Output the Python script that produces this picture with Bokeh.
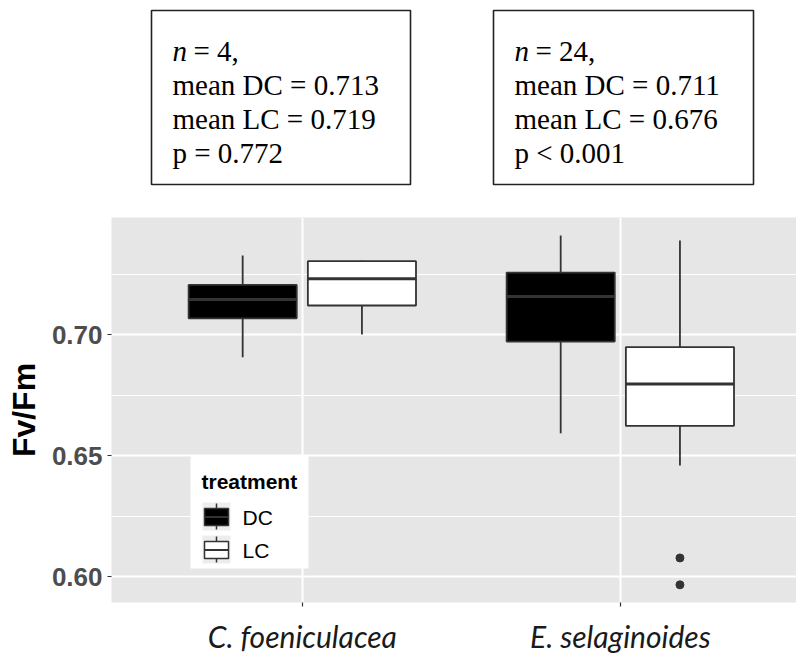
from bokeh.plotting import figure
from bokeh.layouts import column
from bokeh.models import Range1d, FixedTicker, ColumnDataSource
from bokeh.core.properties import value
from bokeh.embed import file_html
from bokeh.resources import INLINE

# ---------------- data ----------------
species = ["C. foeniculacea", "E. selaginoides"]
treatments = ["DC", "LC"]
box_species = ["C. foeniculacea", "C. foeniculacea", "E. selaginoides", "E. selaginoides"]
box_treatment = ["DC", "LC", "DC", "LC"]
whisker_low = [0.6906, 0.7000, 0.6592, 0.6459]
q1 = [0.7067, 0.7120, 0.6971, 0.6623]
median = [0.7145, 0.7230, 0.7157, 0.6796]
q3 = [0.7205, 0.7303, 0.7256, 0.6948]
whisker_high = [0.7326, 0.7305, 0.7409, 0.7388]
outlier_species = ["E. selaginoides", "E. selaginoides"]
outlier_treatment = ["LC", "LC"]
outlier_values = [0.6077, 0.5966]
y_ticks = [0.60, 0.65, 0.70]
y_minor_ticks = [0.625, 0.675, 0.725]
annot_n = ["4", "24"]
annot_mean_dc = ["0.713", "0.711"]
annot_mean_lc = ["0.719", "0.676"]
annot_p = ["= 0.772", "< 0.001"]

# ---------------- styling / layout ----------------
W = 796
TOP_H = 200
MAIN_H = 456
FRAME_L, FRAME_T, FRAME_H = 111, 17, 385
X0, X1 = 0.4, 2.554
Y0, Y1 = 0.5893, 0.74835
DODGE = {"DC": -0.1875, "LC": 0.1875}
BOX_W = 0.34
FILL = {"DC": "black", "LC": "white"}
EDGE = "#333333"
PANEL = "#E6E6E6"

frame_w = W - FRAME_L
px_x = (X1 - X0) / frame_w
px_y = (Y1 - Y0) / FRAME_H


def fx(px):  # page px -> data x
    return X0 + (px - FRAME_L) * px_x


def fy(py):  # page px (from top) -> data y
    return Y1 - (py - TOP_H - FRAME_T) * px_y


# ---------------- annotation strip ----------------
top = figure(width=W, height=TOP_H, x_range=Range1d(FRAME_L, W), y_range=Range1d(TOP_H, 0),
             output_backend="svg", toolbar_location=None,
             x_axis_location=None, y_axis_location=None,
             min_border_left=FRAME_L, min_border_right=0,
             min_border_top=0, min_border_bottom=0)
top.grid.visible = False
top.outline_line_color = None
top.background_fill_color = "white"
top.border_fill_color = "white"

box_left = [151, 493]
box_right = [410, 753]
top.quad(left=box_left, right=box_right, top=[10, 10], bottom=[184, 184],
         fill_color="white", line_color="#222222", line_width=1.6)

text_x = [172, 514]
base = [50, 84, 118, 152]
serif = value("Liberation Serif")
fs = "29px"
top.text(x=text_x, y=[base[0]] * 2, text=["n", "n"], text_font=serif,
         text_font_size=fs, text_font_style="italic", text_baseline="alphabetic",
         text_color="black")
top.text(x=[t + 21 for t in text_x], y=[base[0]] * 2,
         text=["= " + n + "," for n in annot_n], text_font=serif,
         text_font_size=fs, text_baseline="alphabetic", text_color="black")
top.text(x=text_x, y=[base[1]] * 2,
         text=["mean DC = " + v for v in annot_mean_dc], text_font=serif,
         text_font_size=fs, text_baseline="alphabetic", text_color="black")
top.text(x=text_x, y=[base[2]] * 2,
         text=["mean LC = " + v for v in annot_mean_lc], text_font=serif,
         text_font_size=fs, text_baseline="alphabetic", text_color="black")
top.text(x=text_x, y=[base[3]] * 2,
         text=["p " + v for v in annot_p], text_font=serif,
         text_font_size=fs, text_baseline="alphabetic", text_color="black")

# ---------------- main plot ----------------
p = figure(width=W, height=MAIN_H, x_range=Range1d(X0, X1), y_range=Range1d(Y0, Y1),
           output_backend="svg", toolbar_location=None,
           min_border_left=FRAME_L, min_border_right=0,
           min_border_top=FRAME_T, min_border_bottom=MAIN_H - FRAME_T - FRAME_H)
p.background_fill_color = PANEL
p.border_fill_color = "white"
p.outline_line_color = None

xpos = [species.index(s) + 1 + DODGE[t] for s, t in zip(box_species, box_treatment)]
src = ColumnDataSource(dict(
    x=xpos, lo=whisker_low, q1=q1, med=median, q3=q3, hi=whisker_high,
    xl=[x - BOX_W / 2 for x in xpos], xr=[x + BOX_W / 2 for x in xpos],
    fill=[FILL[t] for t in box_treatment],
))
p.segment(x0="x", y0="q3", x1="x", y1="hi", source=src, line_color=EDGE, line_width=1.8)
p.segment(x0="x", y0="q1", x1="x", y1="lo", source=src, line_color=EDGE, line_width=1.8)
p.vbar(x="x", width=BOX_W, top="q3", bottom="q1", source=src,
       fill_color="fill", line_color=EDGE, line_width=1.8)
p.segment(x0="xl", y0="med", x1="xr", y1="med", source=src, line_color=EDGE, line_width=3)

ox = [species.index(s) + 1 + DODGE[t] for s, t in zip(outlier_species, outlier_treatment)]
p.scatter(x=ox, y=outlier_values, size=8, fill_color=EDGE, line_color=EDGE)

# axes
p.xaxis.ticker = FixedTicker(ticks=[1, 2])
p.xaxis.major_label_overrides = {1: species[0], 2: species[1]}
p.xaxis.major_label_text_font = "Lato"
p.xaxis.major_label_text_font_style = "italic"
p.xaxis.major_label_text_font_size = "30px"
p.xaxis.major_label_text_color = "#1a1a1a"
p.xaxis.major_label_standoff = 11

p.yaxis.ticker = FixedTicker(ticks=y_ticks, minor_ticks=y_minor_ticks)
p.yaxis.major_label_overrides = {v: f"{v:.2f}" for v in y_ticks}
p.yaxis.major_label_text_font = "Liberation Sans"
p.yaxis.major_label_text_font_style = "bold"
p.yaxis.major_label_text_font_size = "26px"
p.yaxis.major_label_text_color = "#4D4D4D"
p.yaxis.major_label_standoff = 5
p.yaxis.axis_label = "Fv/Fm"
p.yaxis.axis_label_text_font = "Liberation Sans"
p.yaxis.axis_label_text_font_style = "bold"
p.yaxis.axis_label_text_font_size = "32px"
p.yaxis.axis_label_text_color = "black"
p.yaxis.axis_label_standoff = 7

for ax in (p.xaxis, p.yaxis):
    ax.axis_line_color = None
    ax.major_tick_in = 0
    ax.major_tick_out = 4
    ax.major_tick_line_color = EDGE
    ax.major_tick_line_width = 1.2
    ax.minor_tick_line_color = None

p.xgrid.ticker = FixedTicker(ticks=[1, 2])
p.xgrid.grid_line_color = "white"
p.xgrid.grid_line_width = 2
p.ygrid.ticker = FixedTicker(ticks=y_ticks, minor_ticks=y_minor_ticks)
p.ygrid.grid_line_color = "white"
p.ygrid.grid_line_width = 2
p.ygrid.minor_grid_line_color = "white"
p.ygrid.minor_grid_line_width = 1

# legend (drawn inside the panel, lower left)
p.quad(left=[fx(190)], right=[fx(308)], top=[fy(455)], bottom=[fy(568)],
       fill_color="white", line_color=None)
p.text(x=[fx(201)], y=[fy(481)], text=["treatment"], text_font=value("Liberation Sans"),
       text_font_style="bold", text_font_size="21px", text_baseline="alphabetic",
       text_color="black")
key_top = [502, 535]
key_fill = [FILL[t] for t in treatments]
p.quad(left=[fx(202)] * 2, right=[fx(230)] * 2, top=[fy(k) for k in key_top],
       bottom=[fy(k + 28) for k in key_top], fill_color="#EDEDED", line_color=None)
p.segment(x0=[fx(216)] * 2, x1=[fx(216)] * 2, y0=[fy(k + 1) for k in key_top],
          y1=[fy(k + 27) for k in key_top], line_color=EDGE, line_width=1.5)
p.quad(left=[fx(204)] * 2, right=[fx(228)] * 2, top=[fy(k + 6) for k in key_top],
       bottom=[fy(k + 23) for k in key_top], fill_color=key_fill, line_color=EDGE,
       line_width=1.5)
p.segment(x0=[fx(204)] * 2, x1=[fx(228)] * 2, y0=[fy(k + 14.5) for k in key_top],
          y1=[fy(k + 14.5) for k in key_top], line_color=EDGE, line_width=2)
p.text(x=[fx(242)] * 2, y=[fy(k + 15) for k in key_top], text=treatments,
       text_font=value("Liberation Sans"), text_font_size="21px",
       text_baseline="middle", text_color="black")

layout = column(top, p, spacing=0)
open("out.html", "w").write(file_html(layout, INLINE))
